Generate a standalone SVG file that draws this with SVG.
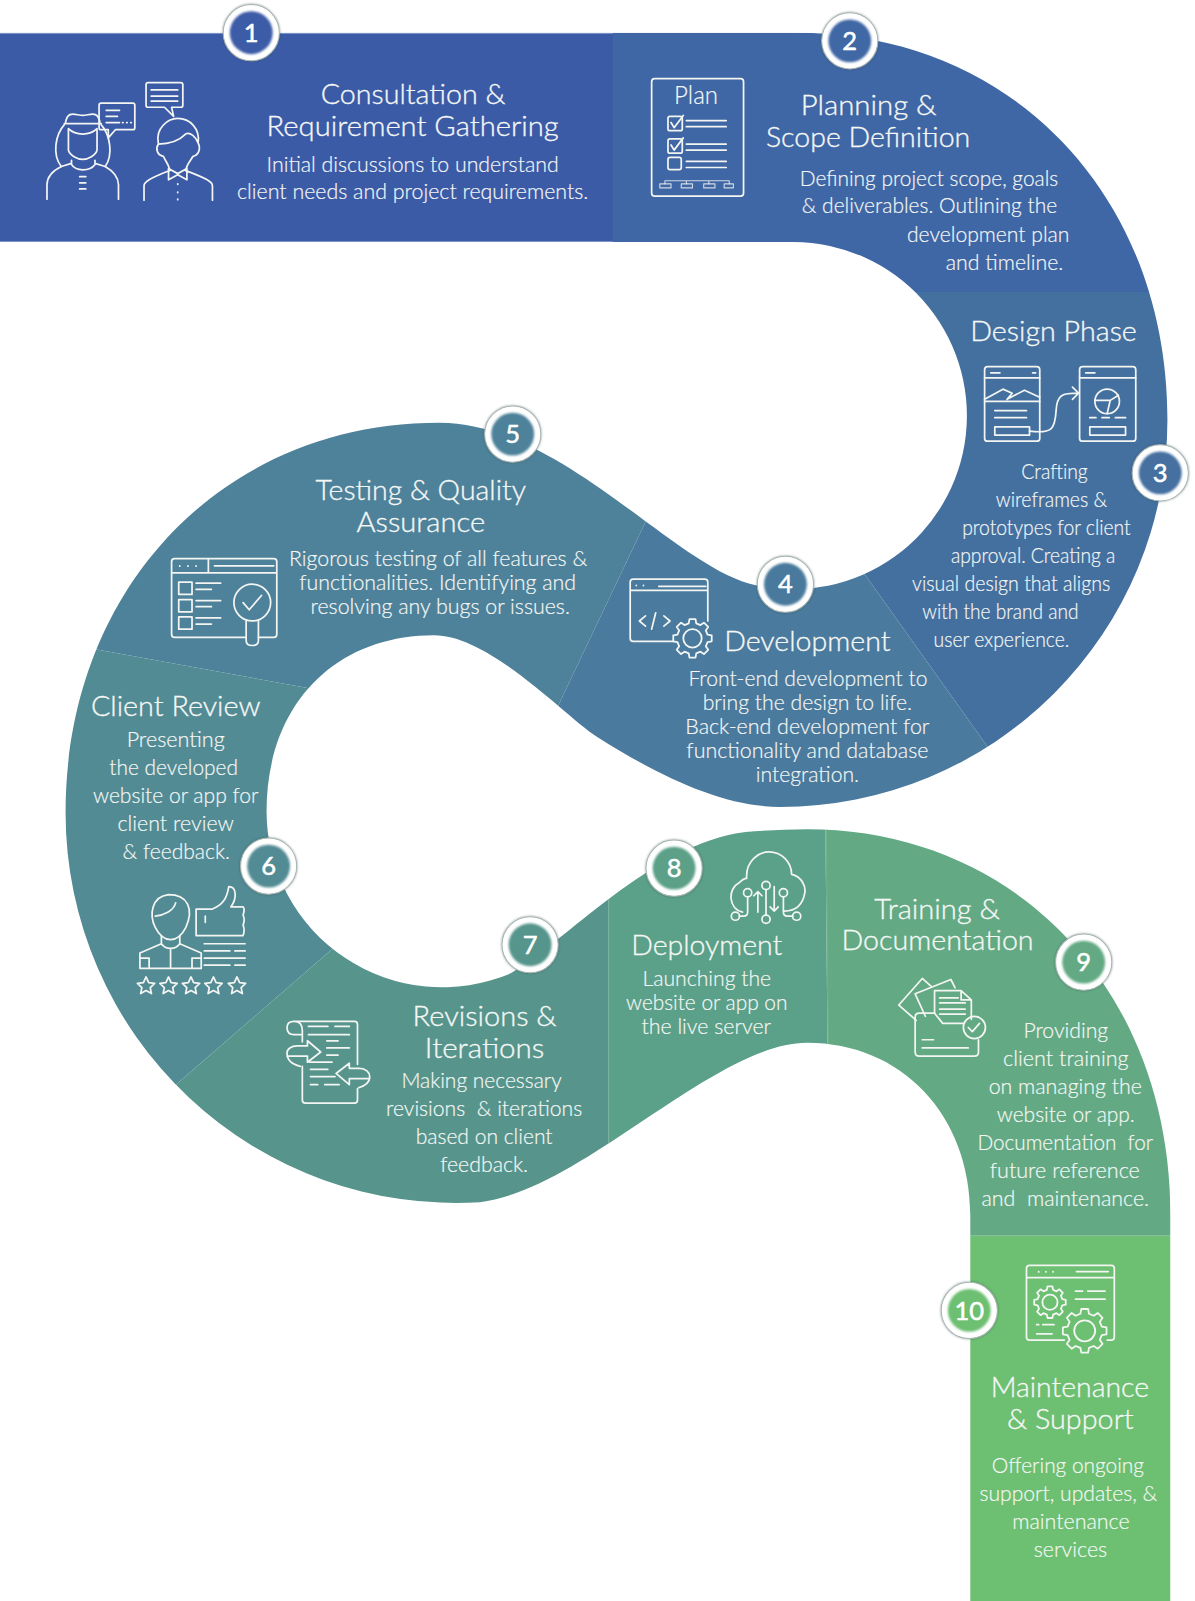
<svg xmlns="http://www.w3.org/2000/svg" width="1195" height="1601" viewBox="0 0 1195 1601">
<style>
text{font-family:"Lato","Liberation Sans",sans-serif;fill:#f5f7f5;font-weight:300;stroke:#f5f7f5;stroke-width:.18}
.t{font-size:27.5px;stroke-width:.32}
.b{font-size:21px}
.n{font-size:25px;font-weight:400;text-anchor:middle;fill:#fff;stroke:#fff;stroke-width:.5}
.i,.i *{fill:none;stroke:#f3f5f3;stroke-width:1.7;stroke-linecap:round;stroke-linejoin:round}
.gear polygon,.gear circle{vector-effect:non-scaling-stroke;stroke:#f3f5f3;stroke-width:1.8;stroke-linejoin:round}
.ring{fill:#fff;stroke:#a8b6b2;stroke-width:1;filter:url(#sh)}
.disc{filter:url(#bl)}
.pre{white-space:pre}
</style>
<defs>
<filter id="sh" x="-30%" y="-30%" width="160%" height="160%"><feDropShadow dx="0" dy="0" stdDeviation="1.3" flood-color="#26404a" flood-opacity=".55"/></filter>
<filter id="bl" x="-20%" y="-20%" width="140%" height="140%"><feGaussianBlur stdDeviation="1"/></filter>
<clipPath id="band"><path d="M0,32 H780 C990,32 1143,191 1143,411 A379,379 0 0 1 764,790 C710,790 650,763 584,721 C554,702 480,622 425,622 C327,622 261,691 261,794 A172,172 0 0 0 500,953 C550,925 640,825 730,814.5 C750,813 770,812 790,812 C996,812 1146,971 1146,1190 V1568 H950 V1190 C950,1092 883,1021 790,1021 C700,1021 570,1165 470,1177 A381.8,381.8 0 0 1 64.2,796 C64,576 218,414 430,414 C550,414 662,557 740,573 A170,170 0 1 0 777,237 H0 Z"/></clipPath>
<g id="gear" class="gear"><polygon points="19.8,-3.1 19.8,3.1 15.5,3.9 13.7,8.2 16.2,11.8 11.8,16.2 8.2,13.7 3.9,15.5 3.1,19.8 -3.1,19.8 -3.9,15.5 -8.2,13.7 -11.8,16.2 -16.2,11.8 -13.7,8.2 -15.5,3.9 -19.8,3.1 -19.8,-3.1 -15.5,-3.9 -13.7,-8.2 -16.2,-11.8 -11.8,-16.2 -8.2,-13.7 -3.9,-15.5 -3.1,-19.8 3.1,-19.8 3.9,-15.5 8.2,-13.7 11.8,-16.2 16.2,-11.8 13.7,-8.2 15.5,-3.9"/><circle r="9.5"/></g>
<path id="star" d="M0,-8.5 L2.6,-2.9 8.5,-2.2 4.1,1.9 5.3,7.8 0,4.8 -5.3,7.8 -4.1,1.9 -8.5,-2.2 -2.6,-2.9 Z"/>
</defs>
<g transform="scale(1.02137)">
<g id="connectors" clip-path="url(#band)">
<rect x="0" y="0" width="600.5" height="300" fill="#3c5ba7"/>
<polygon points="600,0 1195,0 1195,286 600,286" fill="#4067a5"/>
<polygon points="825,532 1016,800 1195,800 1195,286 825,286" fill="#4470a0"/>
<polygon points="660,452 528,730 528,800 1016,800 825,532" fill="#4a7a9d"/>
<polygon points="40,626 320,677 528,730 660,452 660,300 40,300" fill="#4e829a"/>
<polygon points="40,626 320,677 360,899 140,1090 40,1090" fill="#528b94"/>
<polygon points="360,899 596,860 596,1200 140,1200 140,1090" fill="#57958c"/>
<polygon points="596,800 808,800 811,1100 596,1200" fill="#5ba088"/>
<polygon points="808,800 1195,800 1195,1210 900,1210 811,1100" fill="#63aa84"/>
<rect x="900" y="1210" width="295" height="391" fill="#6dbf72"/>
<path d="M596,860V1130M809,800L811,1030" stroke="#7fbf94" stroke-width=".8" opacity=".6" fill="none"/>
<path d="M0,32.5H600M0,236.6H600" stroke="#8ea5d2" stroke-width="1" fill="none"/>
</g>

<g id="node-1">
<g class="i">
<path d="M63,121H99M64,121C66,107 74,113 81,113C88,113 96,107 98,121M63,122C54,132 51,152 60,163M99,122C108,132 111,152 103,163"/>
<path d="M67,126V147C68,152 76,156 81,156C86,156 94,152 95,147V127M67,126C74,133 88,133 95,126"/>
<path d="M46,195V181C46,172 52,167 60,163L70,160V157M116,195V181C116,172 110,167 103,163L93,160V157M70,161C74,168 88,168 93,161M78,173H84M78,179H84M78,185H84"/>
<path d="M99,101H130Q132,101 132,103V125Q132,127 130,127H113L106,135V127H99Q97,127 97,125V103Q97,101 99,101ZM104,108H117M104,114H115M104,120H117M120,120H120.5M124,120H124.5M128,120H128.5"/>
<path d="M145,81H177Q179,81 179,83V103Q179,105 177,105H168L170,114L161,105H145Q143,105 143,103V83Q143,81 145,81ZM148,88H174M148,94H174M148,99H174"/>
<path d="M155,140C152,125 165,116 174,116C186,116 196,126 194,140C192,134 186,129 182,131C176,137 168,141 155,141M155,141C152,146 154,152 160,153C162,158 166,162 166,167M194,140C197,146 194,152 189,153C186,158 182,162 182,167"/>
<path d="M141,196V182C141,178 146,175 166,167M208,196V182C208,178 203,175 182,167M165,165L174,170L183,165V176L174,171L165,176ZM174,180V180.5M174,188V188.5M174,195V195.5"/>
</g>
<text class="t" x="314" y="102" textLength="181" lengthAdjust="spacingAndGlyphs">Consultation &amp;</text>
<text class="t" x="261" y="133" textLength="286" lengthAdjust="spacingAndGlyphs">Requirement Gathering</text>
<text class="b" x="261" y="168" textLength="286" lengthAdjust="spacingAndGlyphs">Initial discussions to understand</text>
<text class="b" x="232" y="195" textLength="344" lengthAdjust="spacingAndGlyphs">client needs and project requirements.</text>
<circle class="ring" cx="246" cy="32" r="27.5"/><circle class="disc" cx="246" cy="32" r="21" fill="#3c5ba7"/><text class="n" x="246" y="41">1</text>
</g>

<g id="node-2">
<g class="i">
<rect x="638" y="77" width="90" height="115" rx="3"/>
<rect x="654" y="114" width="14" height="14" rx="2"/><path d="M657,120L660,125L669,113M672,118H711M672,124H711"/>
<rect x="654" y="136" width="14" height="14" rx="2"/><path d="M657,142L660,147L669,135M672,141H711M672,147H711"/>
<rect x="654" y="154" width="13" height="12" rx="2"/><path d="M672,158H711M672,164H711"/>
<path d="M651,177H714M651,177V180M672,177V180M694,177V180M714,177V180" style="stroke-width:1.1;opacity:.8"/>
<path d="M646,180H657V184H646ZM667,180H678V184H667ZM689,180H700V184H689ZM709,180H718V184H709Z" style="stroke-width:1.1;opacity:.8"/>
</g>
<text x="660" y="102" font-size="25" textLength="43" lengthAdjust="spacingAndGlyphs">Plan</text>
<text class="t" x="784" y="113" textLength="133" lengthAdjust="spacingAndGlyphs">Planning &amp;</text>
<text class="t" x="750" y="144" textLength="200" lengthAdjust="spacingAndGlyphs">Scope Definition</text>
<text class="b" x="783" y="182" textLength="253" lengthAdjust="spacingAndGlyphs">Defining project scope, goals</text>
<text class="b" x="785" y="209" textLength="250" lengthAdjust="spacingAndGlyphs">&amp; deliverables. Outlining the</text>
<text class="b" x="888" y="237" textLength="159" lengthAdjust="spacingAndGlyphs">development plan</text>
<text class="b" x="926" y="264" textLength="115" lengthAdjust="spacingAndGlyphs">and timeline.</text>
<circle class="ring" cx="832" cy="40" r="27.5"/><circle class="disc" cx="832" cy="40" r="21" fill="#4067a5"/><text class="n" x="832" y="49">2</text>
</g>

<g id="node-3">
<g class="i">
<rect x="964" y="359" width="54" height="73" rx="3"/>
<path d="M964,370H1018M970,365H979M1011,365H1014M964,393H1018M964,391L982,381L991,385L986,391M986,391L1003,382L1018,389M974,402H1005M974,409H1005"/>
<rect x="974" y="418" width="34" height="8"/>
<path d="M1008,422C1030,425 1033,420 1034,402C1035,386 1040,385 1056,385M1050,379L1056,385L1050,391"/>
<rect x="1057" y="359" width="55" height="73" rx="3"/>
<path d="M1057,370H1112M1063,365H1072M1067,409H1073M1079,409H1086M1092,409H1102"/>
<circle cx="1084" cy="393" r="12"/><path d="M1072,392H1087L1095,387M1087,392L1084,405"/>
<rect x="1067" y="418" width="35" height="8"/>
</g>
<text class="t" x="950" y="334" textLength="163" lengthAdjust="spacingAndGlyphs">Design Phase</text>
<text class="b" x="1000" y="469" textLength="65" lengthAdjust="spacingAndGlyphs">Crafting</text>
<text class="b" x="975" y="496.5" textLength="109" lengthAdjust="spacingAndGlyphs">wireframes &amp;</text>
<text class="b" x="942" y="524" textLength="165" lengthAdjust="spacingAndGlyphs">prototypes for client</text>
<text class="b" x="931" y="551" textLength="161" lengthAdjust="spacingAndGlyphs">approval. Creating a</text>
<text class="b" x="893" y="578.5" textLength="194" lengthAdjust="spacingAndGlyphs">visual design that aligns</text>
<text class="b" x="903" y="606" textLength="153" lengthAdjust="spacingAndGlyphs">with the brand and</text>
<text class="b" x="914" y="633" textLength="133" lengthAdjust="spacingAndGlyphs">user experience.</text>
<circle class="ring" cx="1136" cy="463" r="27.5"/><circle class="disc" cx="1136" cy="463" r="21" fill="#4470a0"/><text class="n" x="1136" y="472">3</text>
</g>

<g id="node-4">
<g class="i">
<path d="M660,628H620Q617,628 617,625V570Q617,567 620,567H690Q693,567 693,570V608M617,578H693M623,573V573.3M630,573V573.3M645,574H691"/>
<path d="M632,603L626,608L632,613M642,600L638,616M650,603L656,608L650,613"/>
</g>
<use href="#gear" transform="translate(678,625) scale(.95)" fill="#4a7a9d"/>
<text class="t" x="709" y="637.5" textLength="163" lengthAdjust="spacingAndGlyphs">Development</text>
<text class="b" x="674" y="672" textLength="234" lengthAdjust="spacingAndGlyphs">Front-end development to</text>
<text class="b" x="688" y="695.5" textLength="205" lengthAdjust="spacingAndGlyphs">bring the design to life.</text>
<text class="b" x="671" y="719" textLength="239" lengthAdjust="spacingAndGlyphs">Back-end development for</text>
<text class="b" x="672" y="742.5" textLength="237" lengthAdjust="spacingAndGlyphs">functionality and database</text>
<text class="b" x="740" y="766" textLength="101" lengthAdjust="spacingAndGlyphs">integration.</text>
<circle class="ring" cx="769" cy="572" r="27.5"/><circle class="disc" cx="769" cy="572" r="21" fill="#4a7a9d"/><text class="n" x="769" y="581">4</text>
</g>

<g id="node-5">
<g class="i">
<path d="M241,624H171Q168,624 168,621V550Q168,547 171,547H268Q271,547 271,550V621Q271,624 268,624H253M168,561H271M204,547V561M176,554V554.3M184,554V554.3M192,554V554.3M210,554H268"/>
<rect x="175" y="570" width="13" height="12"/><rect x="175" y="587" width="13" height="12"/><rect x="175" y="604" width="13" height="12"/>
<path d="M192,571H216M192,577H207M192,588H216M192,594H207M192,605H216M192,611H207"/>
<circle cx="247" cy="590" r="18"/><path d="M238,590L244,597L256,583M241,608V627Q241,632 247,632Q253,632 253,627V608"/>
</g>
<text class="t" x="309" y="490" textLength="206" lengthAdjust="spacingAndGlyphs">Testing &amp; Quality</text>
<text class="t" x="349" y="521" textLength="126" lengthAdjust="spacingAndGlyphs">Assurance</text>
<text class="b" x="283" y="554" textLength="292" lengthAdjust="spacingAndGlyphs">Rigorous testing of all features &amp;</text>
<text class="b" x="293" y="577.5" textLength="271" lengthAdjust="spacingAndGlyphs">functionalities. Identifying and</text>
<text class="b" x="304" y="601" textLength="254" lengthAdjust="spacingAndGlyphs">resolving any bugs or issues.</text>
<circle class="ring" cx="502" cy="425" r="27.5"/><circle class="disc" cx="502" cy="425" r="21" fill="#4e829a"/><text class="n" x="502" y="434">5</text>
</g>

<g id="node-6">
<g class="i">
<path d="M152,908C146,896 148,878 165,876C184,876 190,890 182,908C178,916 172,920 167,920C160,920 155,914 152,908ZM152,897C160,896 170,892 172,884"/>
<path d="M158,916V924L137,933V948H197V933L176,924V916M158,924C162,930 172,930 176,924M167,930V948M137,938H146V948M197,938H188V948"/>
<path d="M192,890H208C218,886 222,880 224,868C232,868 232,880 226,888H238Q240,890 238,896Q240,900 238,906Q240,910 238,916H192ZM201,897V903"/>
<path d="M200,924H240M200,931H225M230,931H240M200,938H240M200,945H225M230,945H240"/>
<use href="#star" transform="translate(143,965)"/><use href="#star" transform="translate(165,965)"/><use href="#star" transform="translate(187,965)"/><use href="#star" transform="translate(209,965)"/><use href="#star" transform="translate(232,965)"/>
</g>
<text class="t" x="89" y="701" textLength="166" lengthAdjust="spacingAndGlyphs">Client Review</text>
<text class="b" x="124" y="731" textLength="96" lengthAdjust="spacingAndGlyphs">Presenting</text>
<text class="b" x="107" y="759" textLength="126" lengthAdjust="spacingAndGlyphs">the developed</text>
<text class="b" x="91" y="786" textLength="162" lengthAdjust="spacingAndGlyphs">website or app for</text>
<text class="b" x="115" y="813.5" textLength="114" lengthAdjust="spacingAndGlyphs">client review</text>
<text class="b" x="120" y="841" textLength="105" lengthAdjust="spacingAndGlyphs">&amp; feedback.</text>
<circle class="ring" cx="263" cy="848" r="27.5"/><circle class="disc" cx="263" cy="848" r="21" fill="#528b94"/><text class="n" x="263" y="857">6</text>
</g>

<g id="node-7">
<g class="i">
<path d="M287,1000H347Q350,1000 350,1003V1042M350,1066V1077Q350,1080 347,1080H299Q296,1080 296,1077V1044M296,1020V1009Q296,1000 288,1000Q281,1000 281,1006Q281,1013 288,1013H296"/>
<path d="M301,1024H291C285,1024 281,1027 281,1031C281,1037 285,1042 294,1044M281,1034H301V1040L314,1030L301,1019V1024"/>
<path d="M342,1056V1062L329,1051L342,1041V1046H352C358,1046 362,1050 362,1054C362,1059 358,1063 351,1065M342,1056H362"/>
<path d="M302,1005H321M328,1005H342M302,1013H342M320,1019H331M320,1026H342M320,1033H331M303,1040H325M304,1047H321M304,1054H328M304,1062H311M318,1062H332"/>
</g>
<text class="t" x="404" y="1005" textLength="141" lengthAdjust="spacingAndGlyphs">Revisions &amp;</text>
<text class="t" x="416" y="1036" textLength="117" lengthAdjust="spacingAndGlyphs">Iterations</text>
<text class="b" x="393" y="1065.5" textLength="157" lengthAdjust="spacingAndGlyphs">Making necessary</text>
<text class="b pre" xml:space="preserve" x="378" y="1093" textLength="192" lengthAdjust="spacingAndGlyphs">revisions  &amp; iterations</text>
<text class="b" x="407" y="1120" textLength="134" lengthAdjust="spacingAndGlyphs">based on client</text>
<text class="b" x="431" y="1147.5" textLength="86" lengthAdjust="spacingAndGlyphs">feedback.</text>
<circle class="ring" cx="519" cy="925" r="27.5"/><circle class="disc" cx="519" cy="925" r="21" fill="#57958c"/><text class="n" x="519" y="934">7</text>
</g>

<g id="node-8">
<g class="i">
<path d="M727,893C713,890 712,870 724,864C726,862 729,860 731,860C730,842 744,834 753,834C765,834 775,844 775,856C785,858 789,868 788,874C786,886 780,892 768,892"/>
<circle cx="750" cy="867" r="4"/><circle cx="732" cy="874" r="4"/><circle cx="767" cy="874" r="4"/>
<path d="M750,871V896M732,878V893Q732,897 728,897H724M767,878V893Q767,897 771,897H776M742,893V873M738,877L742,873L746,877M758,868V892M754,888L758,892L762,888"/>
<circle cx="720" cy="897" r="4"/><circle cx="780" cy="897" r="4"/><circle cx="750" cy="900" r="4"/>
</g>
<text class="t" x="618" y="935.5" textLength="148" lengthAdjust="spacingAndGlyphs">Deployment</text>
<text class="b" x="629" y="965.5" textLength="126" lengthAdjust="spacingAndGlyphs">Launching the</text>
<text class="b" x="613" y="989" textLength="158" lengthAdjust="spacingAndGlyphs">website or app on</text>
<text class="b" x="628" y="1012" textLength="127" lengthAdjust="spacingAndGlyphs">the live server</text>
<circle class="ring" cx="660" cy="850" r="27.5"/><circle class="disc" cx="660" cy="850" r="21" fill="#5ba088"/><text class="n" x="660" y="859">8</text>
</g>

<g id="node-9">
<g class="i">
<path d="M912,966L903,958L880,984L897,999M896,973L931,959L935,967M896,973L906,995"/>
<path d="M915,992V970H941L951,979V998M941,970V979H951M920,977H938M920,982H945M920,988H945M920,993H945"/>
<path d="M944,1002H923L915,992H900Q896,992 896,996V1030Q896,1034 900,1034H954Q958,1034 958,1030V1018"/>
<circle cx="954" cy="1006" r="10.8"/><path d="M948,1006L952,1010L959,1002"/>
<path d="M903,1018H914M903,1026H948"/>
</g>
<text class="t" x="856" y="899.5" textLength="123" lengthAdjust="spacingAndGlyphs">Training &amp;</text>
<text class="t" x="824" y="930.5" textLength="188" lengthAdjust="spacingAndGlyphs">Documentation</text>
<text class="b" x="1002" y="1016" textLength="83" lengthAdjust="spacingAndGlyphs">Providing</text>
<text class="b" x="982" y="1043.5" textLength="123" lengthAdjust="spacingAndGlyphs">client training</text>
<text class="b" x="968" y="1071" textLength="150" lengthAdjust="spacingAndGlyphs">on managing the</text>
<text class="b" x="976" y="1098.5" textLength="135" lengthAdjust="spacingAndGlyphs">website or app.</text>
<text class="b pre" xml:space="preserve" x="957" y="1125.5" textLength="172" lengthAdjust="spacingAndGlyphs">Documentation  for</text>
<text class="b" x="969" y="1153" textLength="147" lengthAdjust="spacingAndGlyphs">future reference</text>
<text class="b pre" xml:space="preserve" x="961" y="1180.5" textLength="164" lengthAdjust="spacingAndGlyphs">and  maintenance.</text>
<circle class="ring" cx="1061" cy="942" r="27.5"/><circle class="disc" cx="1061" cy="942" r="21" fill="#63aa84"/><text class="n" x="1061" y="951">9</text>
</g>

<g id="node-10">
<g class="i">
<path d="M1042,1312H1008Q1005,1312 1005,1309V1242Q1005,1239 1008,1239H1088Q1091,1239 1091,1242V1309Q1091,1312 1088,1312H1084M1005,1251H1091M1017,1245V1245.3M1024,1245V1245.3M1031,1245V1245.3M1054,1245H1085"/>
<path d="M1053,1264H1060M1065,1264H1082M1053,1272H1082M1015,1297H1017M1021,1297H1032M1015,1306H1030"/>
</g>
<use href="#gear" transform="translate(1028,1275) scale(.78)" fill="#6dbf72"/>
<use href="#gear" transform="translate(1062,1303) scale(1.08)" fill="#6dbf72"/>
<text class="t" x="970" y="1367.5" textLength="155" lengthAdjust="spacingAndGlyphs">Maintenance</text>
<text class="t" x="986" y="1399" textLength="124" lengthAdjust="spacingAndGlyphs">&amp; Support</text>
<text class="b" x="971" y="1442" textLength="149" lengthAdjust="spacingAndGlyphs">Offering ongoing</text>
<text class="b" x="959" y="1469.5" textLength="174" lengthAdjust="spacingAndGlyphs">support, updates, &amp;</text>
<text class="b" x="991" y="1497" textLength="115" lengthAdjust="spacingAndGlyphs">maintenance</text>
<text class="b" x="1012" y="1524" textLength="72" lengthAdjust="spacingAndGlyphs">services</text>
<circle class="ring" cx="949" cy="1283" r="27.5"/><circle class="disc" cx="949" cy="1283" r="21" fill="#6dbf72"/><text class="n" x="949" y="1292">10</text>
</g>
</g>
</svg>
